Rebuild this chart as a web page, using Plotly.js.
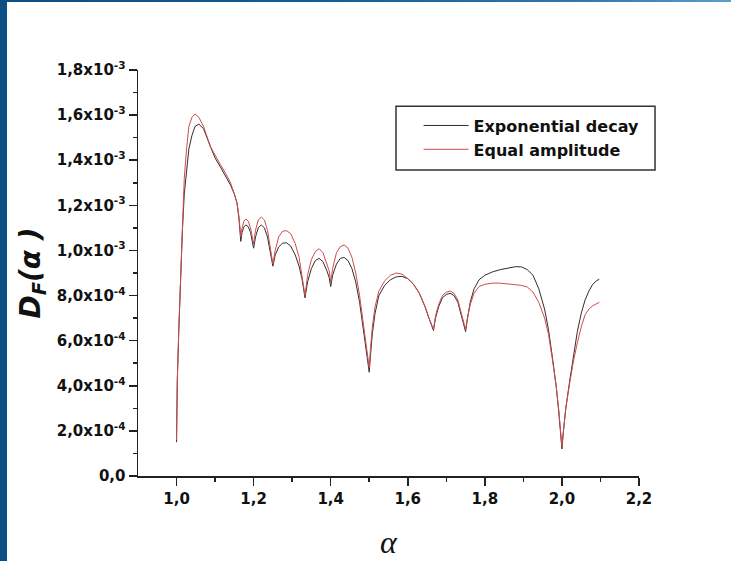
<!DOCTYPE html>
<html>
<head>
<meta charset="utf-8">
<script src="https://cdn.plot.ly/plotly-3.0.1.min.js"></script>
<style>
  html, body { margin: 0; padding: 0; width: 731px; height: 561px; overflow: hidden; }
  body { background: linear-gradient(90deg, #0c4f87 0%, #0f5c96 40%, #2f78b0 80%, #5d9dca 100%); position: relative; }
  #chart { position: absolute; left: 7px; top: 2px; width: 724px; height: 559px; background: #fff; }
</style>
</head>
<body>
<div id="chart"></div>
<script>
// alpha values (x)
const alpha = [
  1.000, 1.002, 1.006, 1.010, 1.015, 1.020, 1.026, 1.032, 1.040, 1.048, 1.058, 1.070, 1.088, 1.100, 1.114, 1.128, 1.140, 1.150, 1.157, 1.162, 1.1667,
  1.170, 1.175, 1.180, 1.186, 1.192, 1.197, 1.200,
  1.205, 1.212, 1.220, 1.228, 1.236, 1.243, 1.250,
  1.256, 1.265, 1.275, 1.285, 1.296, 1.308, 1.318, 1.326, 1.3333,
  1.340, 1.350, 1.360, 1.370, 1.380, 1.390, 1.396, 1.400,
  1.405, 1.415, 1.425, 1.435, 1.445, 1.455, 1.465, 1.475, 1.485, 1.492, 1.497, 1.500,
  1.503, 1.508, 1.515, 1.525, 1.540, 1.555, 1.570, 1.585, 1.600, 1.615, 1.630, 1.645, 1.655, 1.662, 1.6667,
  1.672, 1.680, 1.690, 1.700, 1.710, 1.720, 1.730, 1.738, 1.745, 1.750,
  1.755, 1.762, 1.772, 1.785, 1.800, 1.820, 1.840, 1.860, 1.880, 1.895, 1.910, 1.925, 1.940, 1.955, 1.965, 1.975, 1.985, 1.992, 1.997, 2.000,
  2.004, 2.010, 2.020, 2.030, 2.040, 2.050, 2.060, 2.070, 2.080, 2.090, 2.097
];
// D_F(alpha) for exponential decay, in units of 1e-3
const expDecayE3 = [
  0.15, 0.42, 0.65, 0.85, 1.08, 1.25, 1.36, 1.45, 1.51, 1.55, 1.56, 1.54, 1.46, 1.41, 1.37, 1.33, 1.29, 1.25, 1.21, 1.14, 1.04,
  1.08, 1.105, 1.113, 1.105, 1.08, 1.04, 1.01,
  1.06, 1.10, 1.113, 1.10, 1.06, 1.00, 0.93,
  0.98, 1.015, 1.032, 1.034, 1.02, 0.98, 0.93, 0.87, 0.79,
  0.86, 0.92, 0.955, 0.965, 0.95, 0.91, 0.88, 0.84,
  0.89, 0.94, 0.965, 0.969, 0.955, 0.92, 0.86, 0.77, 0.64, 0.55, 0.49, 0.46,
  0.53, 0.63, 0.72, 0.80, 0.845, 0.87, 0.883, 0.885, 0.875, 0.85, 0.81, 0.75, 0.70, 0.67, 0.645,
  0.70, 0.75, 0.79, 0.805, 0.81, 0.80, 0.77, 0.72, 0.67, 0.64,
  0.70, 0.77, 0.83, 0.87, 0.89, 0.905, 0.915, 0.923, 0.928, 0.927, 0.915, 0.89, 0.83, 0.74, 0.65, 0.53, 0.40, 0.28, 0.18, 0.12,
  0.20, 0.30, 0.42, 0.54, 0.64, 0.72, 0.78, 0.82, 0.85, 0.866, 0.872
];
// D_F(alpha) for equal amplitude, in units of 1e-3
const equalAmpE3 = [
  0.16, 0.43, 0.66, 0.87, 1.12, 1.32, 1.45, 1.55, 1.59, 1.605, 1.59, 1.55, 1.46, 1.42, 1.38, 1.34, 1.30, 1.25, 1.21, 1.15, 1.06,
  1.10, 1.13, 1.14, 1.13, 1.10, 1.06, 1.03,
  1.09, 1.135, 1.148, 1.135, 1.09, 1.02, 0.94,
  1.00, 1.06, 1.085, 1.088, 1.075, 1.03, 0.97, 0.89, 0.80,
  0.89, 0.96, 0.995, 1.008, 0.99, 0.945, 0.91, 0.86,
  0.92, 0.99, 1.017, 1.024, 1.01, 0.97, 0.90, 0.80, 0.67, 0.57, 0.51, 0.48,
  0.56, 0.66, 0.75, 0.82, 0.865, 0.89, 0.90, 0.895, 0.875, 0.85, 0.81, 0.75, 0.70, 0.67, 0.65,
  0.71, 0.76, 0.80, 0.815, 0.82, 0.81, 0.78, 0.73, 0.68, 0.65,
  0.70, 0.76, 0.81, 0.84, 0.85, 0.855, 0.855, 0.853, 0.848, 0.845, 0.838, 0.815, 0.77, 0.70, 0.63, 0.52, 0.40, 0.29, 0.19, 0.13,
  0.20, 0.30, 0.41, 0.51, 0.59, 0.66, 0.715, 0.74, 0.755, 0.765, 0.770
];
const seriesNames = ['Exponential decay', 'Equal amplitude'];

const yTickVals = [0, 0.2e-3, 0.4e-3, 0.6e-3, 0.8e-3, 1.0e-3, 1.2e-3, 1.4e-3, 1.6e-3, 1.8e-3];
const yTickText = ['0,0', '2,0x10<sup>-4</sup>', '4,0x10<sup>-4</sup>', '6,0x10<sup>-4</sup>', '8,0x10<sup>-4</sup>',
  '1,0x10<sup>-3</sup>', '1,2x10<sup>-3</sup>', '1,4x10<sup>-3</sup>', '1,6x10<sup>-3</sup>', '1,8x10<sup>-3</sup>'];
const yMinorVals = [0.1e-3, 0.3e-3, 0.5e-3, 0.7e-3, 0.9e-3, 1.1e-3, 1.3e-3, 1.5e-3, 1.7e-3];
const xTickVals = [1.0, 1.2, 1.4, 1.6, 1.8, 2.0, 2.2];
const xTickText = ['1,0', '1,2', '1,4', '1,6', '1,8', '2,0', '2,2'];
const xMinorVals = [1.1, 1.3, 1.5, 1.7, 1.9, 2.1];

const toValue = arr => arr.map(v => v * 1e-3);

const traces = [
  { x: alpha, y: toValue(expDecayE3), type: 'scatter', mode: 'lines', name: seriesNames[0],
    line: { color: '#2e2e2e', width: 1 } },
  { x: alpha, y: toValue(equalAmpE3), type: 'scatter', mode: 'lines', name: seriesNames[1],
    line: { color: '#d24a4a', width: 1 } }
];

const tickFont = { family: 'DejaVu Sans', size: 15, color: '#111', weight: 'bold' };

const layout = {
  width: 724, height: 559,
  margin: { l: 131, r: 92, t: 68, b: 85 },
  paper_bgcolor: '#ffffff', plot_bgcolor: '#ffffff',
  showlegend: true,
  legend: {
    x: 0.56, y: 0.905, xanchor: 'left', yanchor: 'top',
    bgcolor: 'rgba(0,0,0,0)', borderwidth: 0,
    font: { family: 'DejaVu Sans', size: 16, color: '#111', weight: 'bold' },
    itemwidth: 45
  },
  shapes: [
    { type: 'rect', xref: 'paper', yref: 'paper', x0: 0.515, x1: 1.032, y0: 0.754, y1: 0.911,
      line: { color: '#333', width: 1.5 }, fillcolor: 'rgba(0,0,0,0)', layer: 'below' }
  ],
  xaxis: {
    range: [0.9, 2.2], showgrid: false, zeroline: false,
    showline: true, linecolor: '#222', linewidth: 1.5,
    ticks: 'outside', ticklen: 8, tickwidth: 1.5, tickcolor: '#222',
    tickmode: 'array', tickvals: xTickVals, ticktext: xTickText,
    tickfont: tickFont,
    minor: { tickmode: 'array', tickvals: xMinorVals, ticks: 'outside', ticklen: 4, tickwidth: 1.5, tickcolor: '#222', showgrid: false },
    title: { text: '<i>α</i>', font: { family: 'Liberation Serif', size: 32, color: '#111' }, standoff: 24 },
    automargin: false
  },
  yaxis: {
    range: [0, 1.8e-3], showgrid: false, zeroline: false,
    showline: true, linecolor: '#222', linewidth: 1.5,
    ticks: 'outside', ticklen: 8, tickwidth: 1.5, tickcolor: '#222',
    tickmode: 'array', tickvals: yTickVals, ticktext: yTickText,
    tickfont: tickFont,
    minor: { tickmode: 'array', tickvals: yMinorVals, ticks: 'outside', ticklen: 4, tickwidth: 1.5, tickcolor: '#222', showgrid: false },
    title: { text: '<b><i>D<sub>F</sub>(α )</i></b>', font: { family: 'DejaVu Sans', size: 28, color: '#111' }, standoff: 8 },
    automargin: false
  }
};

Plotly.newPlot('chart', traces, layout, { displayModeBar: false, staticPlot: true });
</script>
</body>
</html>
